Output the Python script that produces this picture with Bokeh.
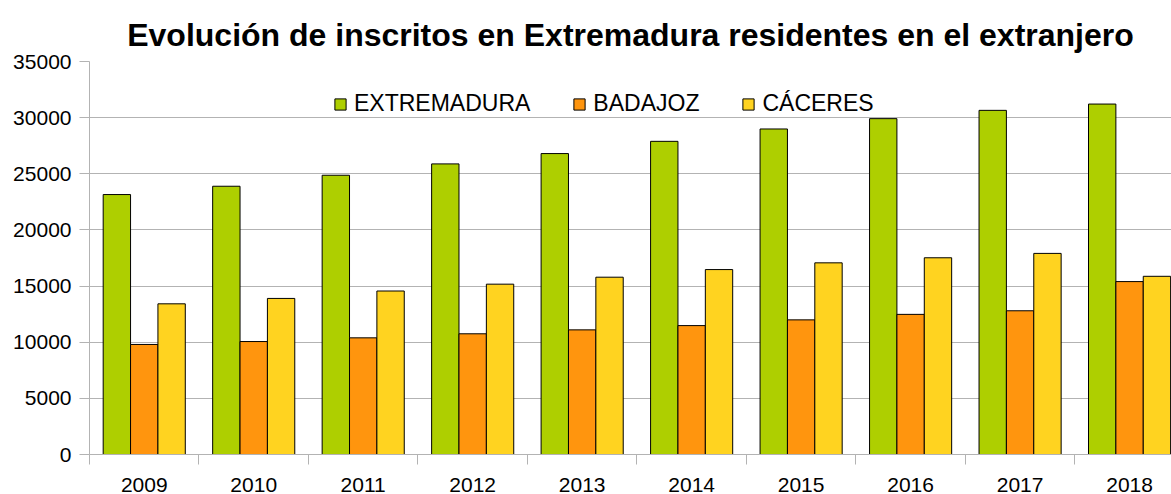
from bokeh.plotting import figure
from bokeh.models import ColumnDataSource, FixedTicker, SingleIntervalTicker, Range1d, Legend, LegendItem
from bokeh.transform import dodge
from bokeh.embed import file_html
from bokeh.resources import INLINE

years = ["2009", "2010", "2011", "2012", "2013", "2014", "2015", "2016", "2017", "2018"]
extremadura = [23150, 23890, 24870, 25880, 26800, 27890, 28990, 29910, 30650, 31210]
badajoz = [9800, 10060, 10390, 10750, 11100, 11480, 11990, 12480, 12800, 15400]
caceres = [13420, 13900, 14560, 15170, 15790, 16470, 17070, 17520, 17910, 15870]
series_names = ["EXTREMADURA", "BADAJOZ", "CÁCERES"]
colors = ["#aecf00", "#ff950e", "#ffd320"]

xpos = [i + 0.5 for i in range(len(years))]
src = ColumnDataSource(dict(x=xpos, ext=extremadura, bad=badajoz, cac=caceres))

FONT = "Liberation Sans"
GRID = "#b3b3b3"

p = figure(width=1171, height=494, output_backend="svg", toolbar_location=None,
           x_range=Range1d(0, 9.883), y_range=Range1d(0, 35000),
           min_border_left=89, min_border_right=0, min_border_top=61, min_border_bottom=0)
p.title.text = "Evolución de inscritos en Extremadura residentes en el extranjero"
p.title.text_font = FONT
p.title.text_font_size = "32px"
p.title.text_font_style = "bold"
p.title.align = "center"
p.title.text_color = "black"
p.title.standoff = 18
p.outline_line_color = None

renderers = []
for key, off, col in zip(["ext", "bad", "cac"], [-0.25, 0.0, 0.25], colors):
    r = p.vbar(x=dodge("x", off), top=key, width=0.25, source=src,
               fill_color=col, line_color="black", line_width=1)
    renderers.append(r)

legend = Legend(items=[LegendItem(label=n, renderers=[r]) for n, r in zip(series_names, renderers)],
                orientation="horizontal", location=(244, 337))
legend.label_text_font = FONT
legend.label_text_font_size = "23px"
legend.label_text_color = "black"
legend.glyph_width = 14
legend.glyph_height = 14
legend.label_standoff = 7
legend.spacing = 42
legend.padding = 0
legend.margin = 0
legend.border_line_color = None
legend.background_fill_alpha = 0
p.add_layout(legend)

p.xgrid.visible = False
p.ygrid.grid_line_color = GRID
p.ygrid.ticker = SingleIntervalTicker(interval=5000)

xa = p.xaxis[0]
xa.ticker = FixedTicker(ticks=xpos, minor_ticks=list(range(len(years) + 1)))
xa.major_label_overrides = {x: y for x, y in zip(xpos, years)}
xa.major_tick_line_color = None
xa.major_tick_out = 10
xa.major_tick_in = 0
xa.minor_tick_out = 10
xa.minor_tick_in = 0
xa.minor_tick_line_color = GRID
xa.axis_line_color = GRID
xa.major_label_text_font = FONT
xa.major_label_text_font_size = "21px"
xa.major_label_text_color = "black"
xa.major_label_standoff = 13

ya = p.yaxis[0]
ya.ticker = SingleIntervalTicker(interval=5000)
ya.minor_tick_line_color = None
ya.major_tick_out = 10
ya.major_tick_in = 0
ya.major_tick_line_color = GRID
ya.axis_line_color = GRID
ya.major_label_text_font = FONT
ya.major_label_text_font_size = "21px"
ya.major_label_text_color = "black"
ya.major_label_standoff = 8

open("out.html", "w").write(file_html(p, INLINE))
